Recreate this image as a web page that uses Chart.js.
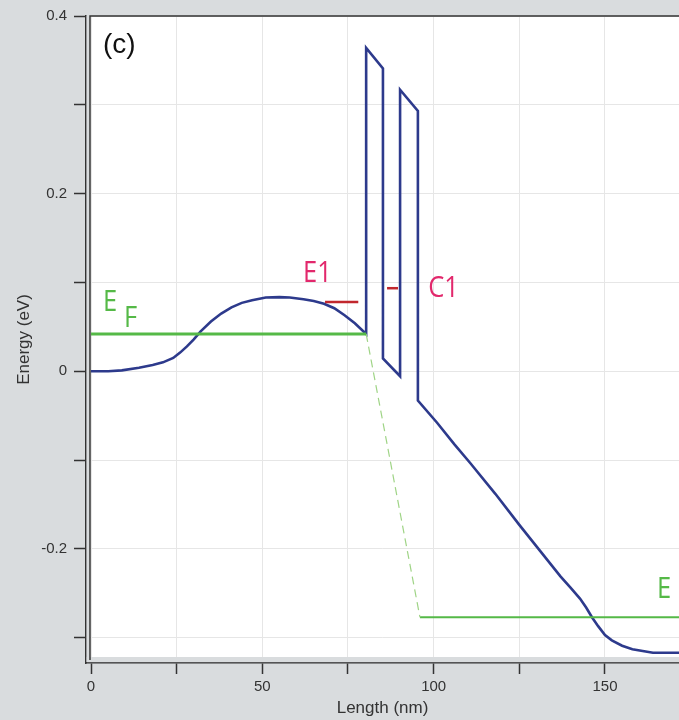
<!DOCTYPE html>
<html>
<head>
<meta charset="utf-8">
<script src="https://cdn.jsdelivr.net/npm/chart.js@4.4.1/dist/chart.umd.min.js"></script>
<style>
  html, body { margin: 0; padding: 0; background: #d9dcde; }
  #wrap { width: 679px; height: 720px; }
</style>
</head>
<body>
<div id="wrap"><canvas id="chart" width="679" height="720"></canvas></div>
<script>
// conduction band profile (nm, eV)
const bandLength = [0, 5, 9, 14, 18, 21, 24, 26, 28, 30, 32, 35, 38, 41, 44, 47, 51, 55, 58, 62, 65, 68, 71, 74, 77, 80.3,
  80.3, 85.2, 85.2, 90.2, 90.2, 95.4, 95.4,
  101, 106, 110.6, 118, 125, 131, 137, 140, 142.7, 144.5, 146.2, 148, 150, 152, 155, 158, 161, 164, 172]
const bandEnergy = [0, 0, 0.001, 0.004, 0.007, 0.010, 0.015, 0.021, 0.028, 0.036, 0.045, 0.056, 0.065, 0.072, 0.077, 0.080, 0.083, 0.0835, 0.083, 0.081, 0.079, 0.076, 0.071, 0.063, 0.054, 0.042,
  0.364, 0.341, 0.0145, -0.0056, 0.317, 0.293, -0.033,
  -0.058, -0.082, -0.103, -0.138, -0.173, -0.202, -0.231, -0.244, -0.256, -0.266, -0.277, -0.287, -0.297, -0.303, -0.309, -0.313, -0.315, -0.317, -0.317]

// fermi levels
const fermiLeftLength = [0, 80.3]
const fermiLeftEnergy = [0.042, 0.042]
const fermiDropLength = [80.3, 96]
const fermiDropEnergy = [0.042, -0.277]
const fermiRightLength = [96, 172]
const fermiRightEnergy = [-0.277, -0.277]

// confined levels
const e1Length = [68.3, 78]
const e1Energy = [0.078, 0.078]
const c1Length = [86.4, 89.6]
const c1Energy = [0.0935, 0.0935]

const pts = (xs, ys) => xs.map((x, i) => ({ x, y: ys[i] }))

const BLUE = '#2d3a8c'
const GREEN = '#55b947'
const PINK = '#e2286c'
const RED = '#c1272d'

// text placed in data coordinates
const notes = [
  { text: 'E1', x: 61.9, y: 0.100, color: PINK },
  { text: 'C1', x: 98.4, y: 0.0835, color: PINK },
  { text: 'E', x: 3.5, y: 0.068, color: GREEN },
  { text: 'F', x: 9.6, y: 0.050, color: GREEN },
  { text: 'E', x: 165.2, y: -0.255, color: GREEN },
  { text: 'F', x: 171.3, y: -0.273, color: GREEN }
]

const framePlugin = {
  id: 'frame',
  beforeDraw(chart) {
    const { ctx, chartArea: a } = chart
    ctx.save()
    ctx.fillStyle = '#ffffff'
    ctx.fillRect(a.left + 4, a.top, a.right - a.left - 4, a.bottom - a.top - 6)
    ctx.restore()
  },
  beforeDatasetsDraw(chart) {
    const { ctx, chartArea: a } = chart
    ctx.save()
    ctx.fillStyle = '#d9dcde'
    ctx.fillRect(a.left + 0.8, a.top, 3.2, a.bottom - a.top - 1)
    ctx.fillRect(a.left + 0.8, a.bottom - 6, a.right - a.left, 5.2)
    ctx.strokeStyle = '#333'
    ctx.lineWidth = 1.5
    ctx.beginPath()
    ctx.moveTo(a.left + 4, a.bottom - 3)
    ctx.lineTo(a.left + 4, a.top)
    ctx.lineTo(a.right, a.top)
    ctx.stroke()
    ctx.restore()
  },
  afterDatasetsDraw(chart) {
    const { ctx, scales: { x, y } } = chart
    ctx.save()
    ctx.textBaseline = 'alphabetic'
    ctx.textAlign = 'left'
    ctx.font = '500 29px "Open Sans"'
    notes.forEach(n => {
      ctx.fillStyle = n.color
      ctx.save()
      ctx.translate(x.getPixelForValue(n.x), y.getPixelForValue(n.y))
      ctx.scale(0.88, 1)
      ctx.fillText(n.text, 0, 0)
      ctx.restore()
    })
    ctx.fillStyle = '#111'
    ctx.font = '28px "Liberation Sans"'
    ctx.textBaseline = 'middle'
    ctx.fillText('(c)', x.getPixelForValue(3.5), y.getPixelForValue(0.3675))
    ctx.restore()
  }
}

const tickFont = { family: 'Liberation Sans', size: 15 }
const titleFont = { family: 'Liberation Sans', size: 17 }

new Chart(document.getElementById('chart'), {
  type: 'line',
  data: {
    datasets: [
      { data: pts(fermiLeftLength, fermiLeftEnergy), borderColor: GREEN, borderWidth: 3 },
      { data: pts(fermiDropLength, fermiDropEnergy), borderColor: '#9fd486', borderWidth: 1.2, borderDash: [8, 5] },
      { data: pts(fermiRightLength, fermiRightEnergy), borderColor: GREEN, borderWidth: 2.2 },
      { data: pts(e1Length, e1Energy), borderColor: RED, borderWidth: 2.5 },
      { data: pts(c1Length, c1Energy), borderColor: RED, borderWidth: 2.5 },
      { data: pts(bandLength, bandEnergy), borderColor: BLUE, borderWidth: 2.6, borderJoinStyle: 'miter' }
    ]
  },
  options: {
    responsive: false,
    animation: false,
    layout: { padding: { top: 9, right: 0, left: 0, bottom: 0 } },
    elements: { point: { radius: 0 }, line: { tension: 0, fill: false } },
    plugins: { legend: { display: false }, tooltip: { enabled: false } },
    scales: {
      x: {
        type: 'linear',
        min: -1.46,
        max: 171.6,
        afterFit: (s) => { s.height = 57 },
        grid: { color: '#e6e6e6', tickColor: '#333', tickLength: 11, tickWidth: 1.5 },
        border: { color: '#333', width: 1.5 },
        ticks: {
          stepSize: 25, includeBounds: false, autoSkip: false, maxRotation: 0,
          padding: 4, color: '#333', font: tickFont,
          callback: (v) => (v % 50 === 0 ? String(v) : '')
        },
        title: { display: true, text: 'Length (nm)', color: '#333', font: titleFont, padding: { top: 0, bottom: 1 } }
      },
      y: {
        type: 'linear',
        min: -0.3285,
        max: 0.4,
        afterFit: (s) => { s.width = 86 },
        grid: { color: '#e6e6e6', tickColor: '#333', tickLength: 12, tickWidth: 1.5 },
        border: { color: '#333', width: 1.5 },
        ticks: {
          stepSize: 0.1, includeBounds: false, padding: 7, color: '#333', font: tickFont,
          callback: (v) => (Math.round(v * 10) % 2 === 0 ? String(Math.round(v * 10) / 10) : '')
        },
        title: { display: true, text: 'Energy (eV)', color: '#333', font: titleFont, padding: { top: 14, bottom: 0 } }
      }
    }
  },
  plugins: [framePlugin]
})
</script>
</body>
</html>
